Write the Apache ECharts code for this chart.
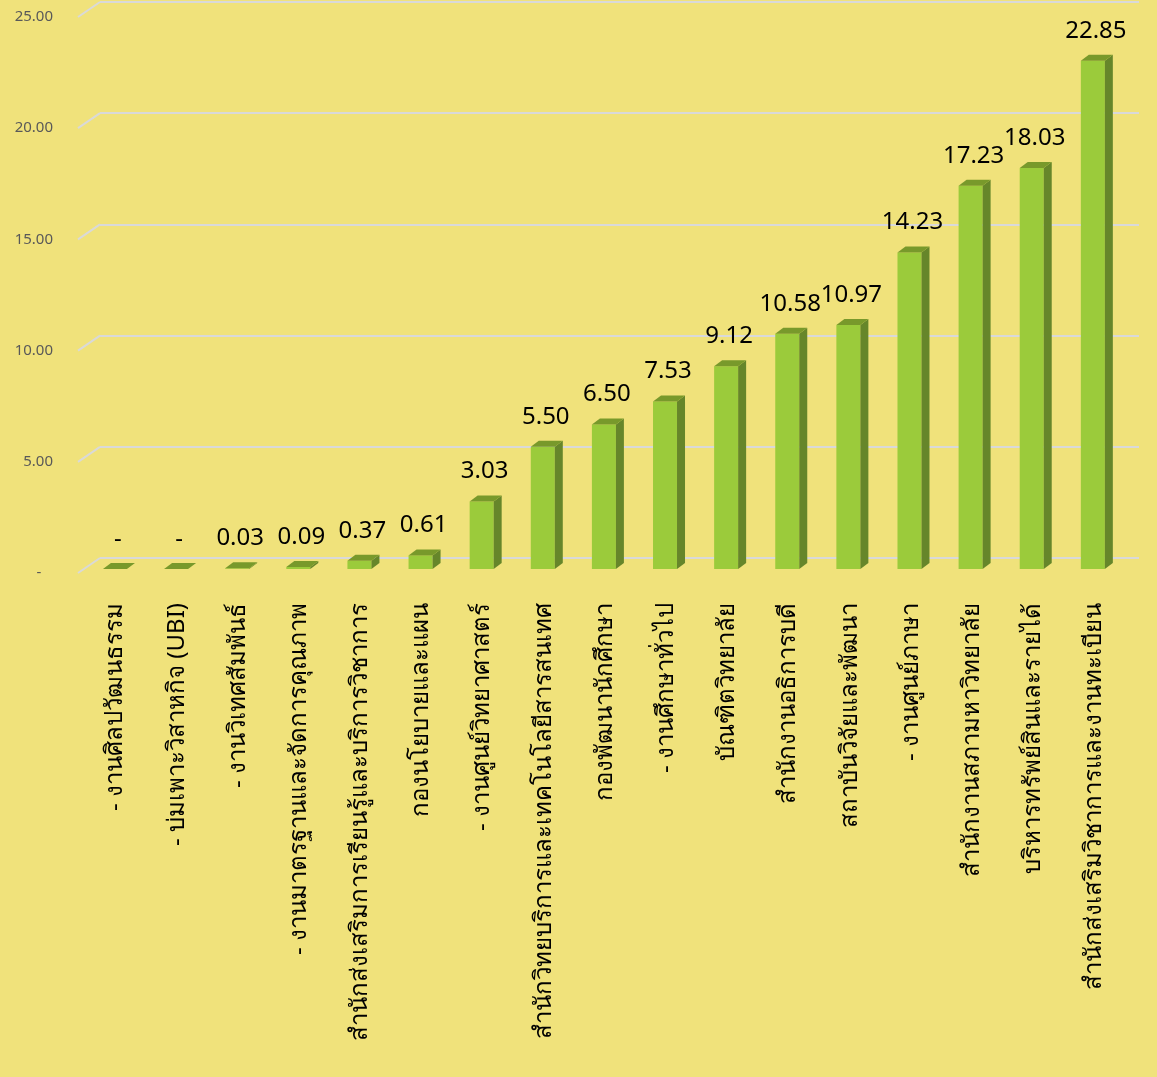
<!DOCTYPE html>
<html>
<head>
<meta charset="utf-8">
<script src="https://cdn.jsdelivr.net/npm/echarts@6/dist/echarts.min.js"></script>
<style>
html,body{margin:0;padding:0;background:#F0E27B;}
#chart{width:1157px;height:1077px;}
</style>
</head>
<body>
<div id="chart"></div>
<script>
const categories = [
  '- งานศิลปวัฒนธรรม',
  '- บ่มเพาะวิสาหกิจ (UBI)',
  '- งานวิเทศสัมพันธ์',
  '- งานมาตรฐานและจัดการคุณภาพ',
  'สำนักส่งเสริมการเรียนรู้และบริการวิชาการ',
  'กองนโยบายและแผน',
  '- งานศูนย์วิทยาศาสตร์',
  'สำนักวิทยบริการและเทคโนโลยีสารสนเทศ',
  'กองพัฒนานักศึกษา',
  '- งานศึกษาทั่วไป',
  'บัณฑิตวิทยาลัย',
  'สำนักงานอธิการบดี',
  'สถาบันวิจัยและพัฒนา',
  '- งานศูนย์ภาษา',
  'สำนักงานสภามหาวิทยาลัย',
  'บริหารทรัพย์สินและรายได้',
  'สำนักส่งเสริมวิชาการและงานทะเบียน'
];
const values = [0, 0, 0.03, 0.09, 0.37, 0.61, 3.03, 5.50, 6.50, 7.53, 9.12, 10.58, 10.97, 14.23, 17.23, 18.03, 22.85];
const yTicks = [0, 5, 10, 15, 20, 25];

const fmt = v => (v === 0 ? '-' : v.toFixed(2));

const chart = echarts.init(document.getElementById('chart'));

const FRONT_DX = -15.6, FRONT_DY = 11, HALF_W = 12, DEPTH_X = 8, DEPTH_Y = 6;

chart.setOption({
  backgroundColor: '#F0E27B',
  animation: false,
  textStyle: { fontFamily: '"Noto Sans", "DejaVu Sans", sans-serif' },
  grid: [
    { left: 100, right: 18, top: 2, height: 556 },
    { left: 85, right: 32, top: 17, height: 556 }
  ],
  xAxis: [
    { type: 'category', gridIndex: 0, data: categories, show: false },
    {
      type: 'category', gridIndex: 1, data: categories,
      axisLine: { show: false }, axisTick: { show: false },
      axisLabel: { rotate: 90, interval: 0, margin: 30, color: '#000', fontSize: 24 }
    }
  ],
  yAxis: [
    {
      type: 'value', gridIndex: 0, min: 0, max: 25, interval: 5,
      axisLine: { show: false }, axisTick: { show: false }, axisLabel: { show: false },
      splitLine: { lineStyle: { color: '#D9D9D9', width: 2 } }
    },
    {
      type: 'value', gridIndex: 1, min: 0, max: 25, interval: 5,
      axisLine: { show: false }, axisTick: { show: false },
      splitLine: { show: false },
      axisLabel: { margin: 32, color: '#595959', fontSize: 15, formatter: v => (v === 0 ? '-   ' : v.toFixed(2)) }
    }
  ],
  series: [
    {
      type: 'custom', xAxisIndex: 0, yAxisIndex: 0, silent: true, z: 1,
      data: yTicks.map(t => [0, t]),
      renderItem: function (params, api) {
        const c = api.coord([0, api.value(1)]);
        const bw = api.size([1, 0])[0];
        const x0 = c[0] - bw / 2;
        return {
          type: 'line',
          shape: { x1: x0, y1: c[1], x2: x0 - 22, y2: c[1] + 15 },
          style: { stroke: '#D9D9D9', lineWidth: 2 }
        };
      }
    },
    {
      type: 'custom', xAxisIndex: 0, yAxisIndex: 0, z: 3,
      data: values.map((v, i) => [i, v]),
      renderItem: function (params, api) {
        const i = api.value(0), v = api.value(1);
        const top = api.coord([i, v]);
        const base = api.coord([i, 0]);
        const cx = top[0] + FRONT_DX;
        const xl = cx - HALF_W, xr = cx + HALF_W;
        const yt = top[1] + FRONT_DY, yb = base[1] + FRONT_DY;
        const children = [];
        if (yb - yt > 0.5) {
          children.push({ type: 'rect', shape: { x: xl, y: yt, width: xr - xl, height: yb - yt }, style: { fill: '#9BCB3B' } });
          children.push({ type: 'polygon', shape: { points: [[xr, yt], [xr + DEPTH_X, yt - DEPTH_Y], [xr + DEPTH_X, yb - DEPTH_Y], [xr, yb]] }, style: { fill: '#66862A' } });
        }
        children.push({ type: 'polygon', shape: { points: [[xl, yt], [xl + DEPTH_X, yt - DEPTH_Y], [xr + DEPTH_X, yt - DEPTH_Y], [xr, yt]] }, style: { fill: '#78992B' } });
        children.push({
          type: 'text',
          style: {
            text: fmt(v), x: cx + 3, y: yt - 30,
            align: 'center', verticalAlign: 'middle',
            fill: '#000', fontSize: 24,
            fontFamily: '"Noto Sans", "DejaVu Sans", sans-serif'
          }
        });
        return { type: 'group', children: children };
      }
    }
  ]
});
</script>
</body>
</html>
